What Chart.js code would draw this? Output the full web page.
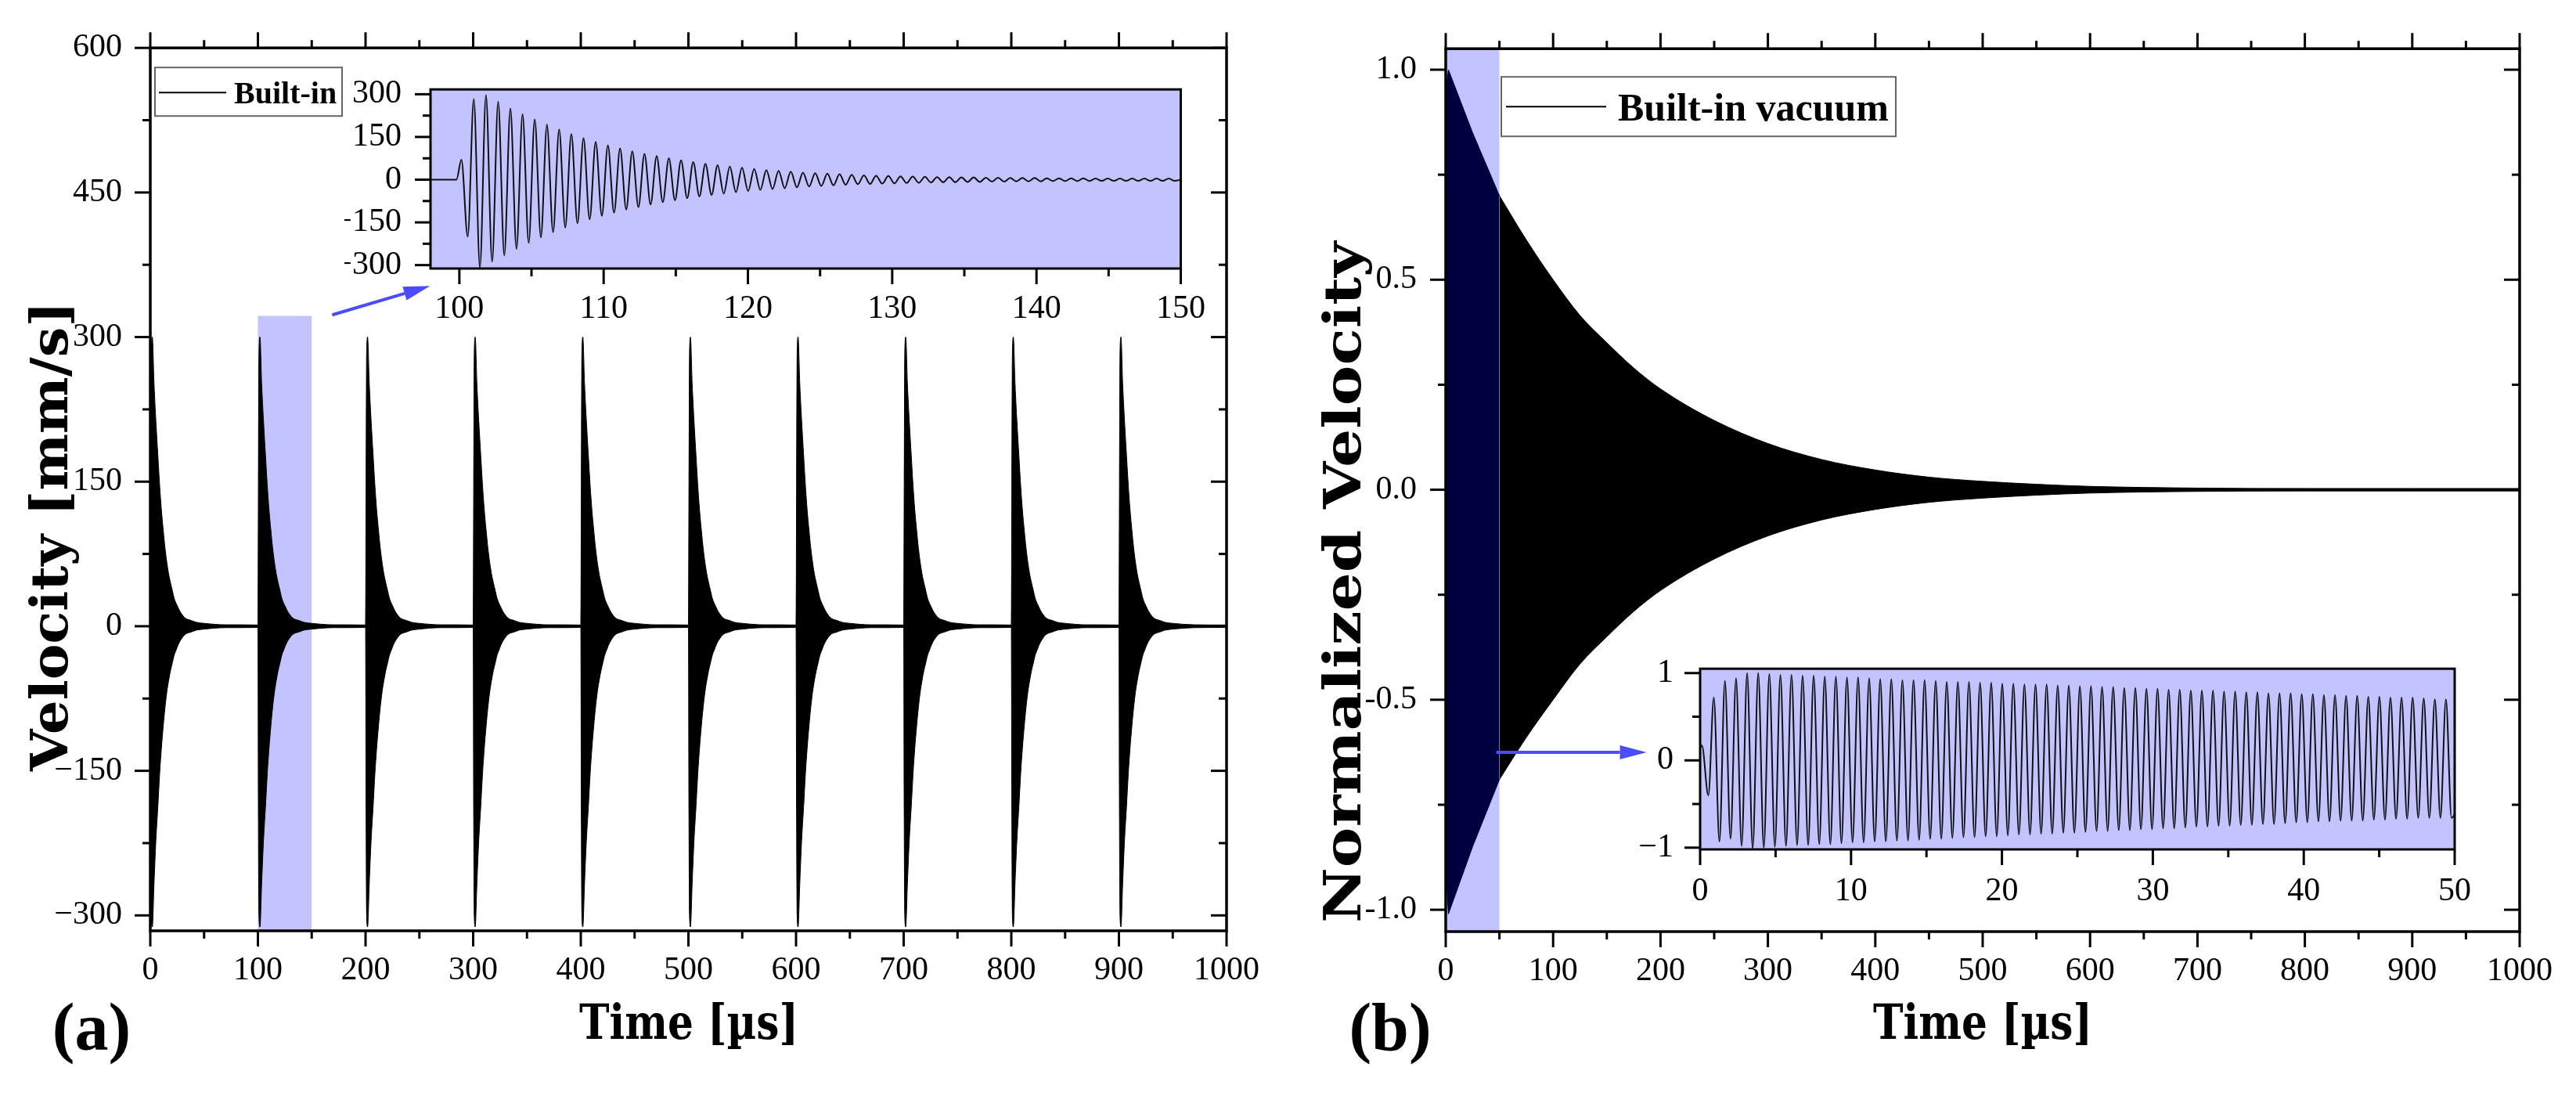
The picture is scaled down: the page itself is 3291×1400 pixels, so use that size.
<!DOCTYPE html>
<html><head><meta charset="utf-8">
<script src="https://cdn.jsdelivr.net/npm/chart.js@4.4.1/dist/chart.umd.min.js"></script>
<style>
html,body{margin:0;padding:0;background:#fff;}
#wrap{position:relative;width:3291px;height:1400px;overflow:hidden;background:#fff;}
canvas{position:absolute;}
</style></head><body><div id="wrap">
<canvas id="cA"></canvas><canvas id="cB"></canvas><canvas id="cIA"></canvas><canvas id="cIB"></canvas>
</div>
<script>
// ================= DATA =================
// Panel (a): repeated ring-down bursts (envelope)
const burstStarts = [0,100,200,300,400,500,600,700,800,900];
const burstTau   = [0,0.5,1.0,1.9,3.5,5.2,7.0,8.7,10.3,12.0,13.7,15.4,17.1,18.8,20.5,22.2,23.9,25.6,27.3,29.0,31.0,33.0,38.0,43.0,50.0,70.0,99.6];
const burstUpper = [0,150,283,300,251,213,178,146,121,100,81,66,54,45,37,29,24,20,16,13,10,8,6,4,3,1.5,1.3];
const burstLower = [0,-200,-300,-312,-266,-222,-188,-153,-127,-104,-84,-68,-56,-46,-38,-30,-25,-20,-16,-13,-10,-8,-6,-4,-3,-1.5,-1.3];
const highlightA = [100,150];       // µs
const highlightATop = 322;          // mm/s
const arrowA = [[169,323],[260,353]];

// Inset (a): oscillation extremes, 98–150 µs
const insetALeadT = [98, 99.8, 100.14];
const insetALeadV = [0, 0, 70];
const insetAPeriod = 0.845;
const insetAPeakT0 = 101.0;
const insetAPeaks = [283,297,274,250,230,212,193,176,160,146,133,121,110,100,91,83,75,68,62,56,51,46,42,38,34,31,28,25,23,21,19,17,15,14,13,12,11,10,9,9,8,8,7,7,6,6,6,5,5,5,5,4,4,4,4,4,4,4];
const insetATroughT0 = 100.58;
const insetATroughs = [-200,-309,-288,-266,-243,-222,-203,-185,-168,-153,-139,-127,-116,-105,-96,-87,-79,-72,-65,-59,-54,-49,-44,-40,-36,-33,-30,-27,-24,-22,-20,-18,-16,-15,-14,-13,-12,-11,-10,-9,-9,-8,-8,-7,-7,-6,-6,-6,-5,-5,-5,-5,-4,-4,-4,-4,-4,-4,-4];
const insetAEnd = [150, 0];

// Panel (b): normalized decay envelope
const decayT     = [0,2.5,25,50,75,100,125,150,175,200,250,300,350,400,450,500,550,600,700,800,900,1000];
const decayUpper = [0.95,1.0,0.85,0.70,0.595,0.50,0.415,0.35,0.29,0.24,0.165,0.11,0.072,0.047,0.03,0.02,0.013,0.008,0.004,0.003,0.003,0.003];
const decayLower = [-0.9,-1.01,-0.85,-0.69,-0.59,-0.50,-0.415,-0.35,-0.29,-0.24,-0.165,-0.11,-0.072,-0.047,-0.03,-0.02,-0.013,-0.008,-0.004,-0.003,-0.003,-0.003];
const highlightB = [0,50];
const arrowB = [[47,-0.625],[187,-0.625]];

// Inset (b): oscillation extremes, 0–50 µs
const insetBLeadT = [0, 0.12];
const insetBLeadV = [0.14, 0.17];
const insetBPeriod = 0.735;
const insetBPeakT0 = 0.91;
const insetBPeaks = [0.72,0.91,0.94,1.00,1.00,0.99,0.98,0.98,0.97,0.97,0.96,0.96,0.95,0.95,0.94,0.93,0.93,0.92,0.92,0.92,0.91,0.90,0.90,0.90,0.89,0.89,0.88,0.88,0.87,0.87,0.87,0.86,0.86,0.85,0.85,0.84,0.84,0.83,0.83,0.82,0.82,0.81,0.81,0.80,0.80,0.80,0.79,0.79,0.78,0.78,0.77,0.77,0.77,0.76,0.76,0.75,0.75,0.74,0.74,0.73,0.73,0.72,0.72,0.72,0.71,0.70,0.70];
const insetBTroughT0 = 0.545;
const insetBTroughs = [-0.40,-0.93,-0.90,-0.98,-1.01,-1.00,-0.99,-0.98,-0.97,-0.97,-0.96,-0.96,-0.95,-0.94,-0.94,-0.93,-0.93,-0.92,-0.92,-0.91,-0.90,-0.90,-0.89,-0.88,-0.88,-0.87,-0.87,-0.86,-0.85,-0.85,-0.84,-0.84,-0.83,-0.83,-0.82,-0.81,-0.81,-0.80,-0.80,-0.79,-0.79,-0.78,-0.78,-0.77,-0.76,-0.76,-0.75,-0.75,-0.74,-0.74,-0.73,-0.73,-0.72,-0.71,-0.71,-0.70,-0.70,-0.69,-0.69,-0.69,-0.68,-0.68,-0.67,-0.67,-0.66,-0.66,-0.66,-0.66];
const insetBEnd = [50, -0.62];

// Ticks and labels
const timeTicks = [0,100,200,300,400,500,600,700,800,900,1000];
const timeLabels = ['0','100','200','300','400','500','600','700','800','900','1000'];
const timeMinor = [50,150,250,350,450,550,650,750,850,950];
const velTicksA = [-300,-150,0,150,300,450,600];
const velLabelsA = ['\u2212300','\u2212150','0','150','300','450','600'];
const velMinorA = [-225,-75,75,225,375,525];
const insetATimeTicks = [100,110,120,130,140,150];
const insetATimeLabels = ['100','110','120','130','140','150'];
const insetATimeMinor = [105,115,125,135,145];
const insetAVelTicks = [-300,-150,0,150,300];
const insetAVelLabels = ['\u2212300','\u2212150','0','150','300'];
const insetAVelMinor = [-225,-75,75,225];
const normTicks = [-1,-0.5,0,0.5,1];
const normLabels = ['-1.0','-0.5','0.0','0.5','1.0'];
const normMinor = [-0.75,-0.25,0.25,0.75];
const insetBTimeTicks = [0,10,20,30,40,50];
const insetBTimeLabels = ['0','10','20','30','40','50'];
const insetBTimeMinor = [5,15,25,35,45];
const insetBVelTicks = [-1,0,1];
const insetBVelLabels = ['\u22121','0','1'];
const insetBVelMinor = [-0.5,0.5];

// ================= BUILD SERIES =================
function burstSeries(vals){
  const pts=[];
  burstStarts.forEach(s=>burstTau.forEach((t,i)=>pts.push({x:s+t,y:vals[i]})));
  return pts;
}
function oscSeries(leadT,leadV,pT0,peaks,tT0,troughs,period,end){
  const pts=leadT.map((t,i)=>({x:t,y:leadV[i]}));
  peaks.forEach((v,k)=>pts.push({x:pT0+k*period,y:v}));
  troughs.forEach((v,k)=>pts.push({x:tT0+k*period,y:v}));
  pts.push({x:end[0],y:end[1]});
  pts.sort((a,b)=>a.x-b.x);
  return pts;
}
function decaySeries(vals,lo,hi){
  const pts=[];
  decayT.forEach((t,i)=>{ if(t>=lo && t<=hi) pts.push({x:t,y:vals[i]}); });
  return pts;
}

// ================= HELPERS =================
Chart.defaults.font.family = "'Liberation Serif', serif";
Chart.defaults.color = '#000';
const LAV='#c3c3ff', NAVY='#000040', ARROW='#4b4bff';
const tickFont = {family:"'Liberation Serif', serif", size:42};

function place(id, left, top, w, h){
  const c=document.getElementById(id);
  c.width=w; c.height=h; c.style.left=left+'px'; c.style.top=top+'px';
  c.style.width=w+'px'; c.style.height=h+'px';
  return c;
}
function axisCfg(min,max,ticks,labels,size,pad,isX){
  return {
    type:'linear', min:min, max:max,
    afterFit(s){ if(isX) s.height=size; else s.width=size; },
    afterBuildTicks(s){ s.ticks = ticks.map(v=>({value:v})); },
    ticks:{autoSkip:false,maxRotation:0,minRotation:0,padding:pad,font:tickFont,color:'#000',
      callback:(v,i)=>labels[i]},
    grid:{display:false,drawTicks:false},
    border:{display:false}
  };
}
function frameTicks(chart, spec){
  const ctx=chart.ctx, a=chart.chartArea, xs=chart.scales.x, ys=chart.scales.y;
  ctx.save();
  ctx.strokeStyle='#000'; ctx.lineWidth=3;
  const seg=(x1,y1,x2,y2)=>{ctx.beginPath();ctx.moveTo(x1,y1);ctx.lineTo(x2,y2);ctx.stroke();};
  [[spec.xMajor,20],[spec.xMinor,10]].forEach(([vals,len])=>vals.forEach(v=>{
    const p=xs.getPixelForValue(v);
    seg(p,a.bottom,p,a.bottom+len);
    if(spec.top) seg(p,a.top,p,a.top-len);
  }));
  [[spec.yMajor,20],[spec.yMinor,10]].forEach(([vals,len])=>vals.forEach(v=>{
    const p=ys.getPixelForValue(v);
    seg(a.left,p,a.left-len,p);
    if(spec.right) seg(a.right,p,a.right-len,p);
  }));
  ctx.lineWidth=spec.frame;
  ctx.strokeRect(a.left,a.top,a.right-a.left,a.bottom-a.top);
  ctx.restore();
}
function drawArrow(chart, p1, p2){
  const ctx=chart.ctx, xs=chart.scales.x, ys=chart.scales.y;
  const x1=xs.getPixelForValue(p1[0]), y1=ys.getPixelForValue(p1[1]);
  const x2=xs.getPixelForValue(p2[0]), y2=ys.getPixelForValue(p2[1]);
  const ang=Math.atan2(y2-y1,x2-x1), hl=34, hw=9;
  const bx=x2-hl*Math.cos(ang), by=y2-hl*Math.sin(ang);
  ctx.save();
  ctx.strokeStyle=ARROW; ctx.fillStyle=ARROW; ctx.lineWidth=4;
  ctx.beginPath(); ctx.moveTo(x1,y1); ctx.lineTo(bx,by); ctx.stroke();
  ctx.beginPath(); ctx.moveTo(x2,y2);
  ctx.lineTo(bx+hw*Math.sin(ang), by-hw*Math.cos(ang));
  ctx.lineTo(bx-hw*Math.sin(ang), by+hw*Math.cos(ang));
  ctx.closePath(); ctx.fill();
  ctx.restore();
}
function stretchText(ctx, text, x, y, angle, font, width, align){
  ctx.save();
  ctx.translate(x,y); ctx.rotate(angle);
  ctx.font=font; ctx.fillStyle='#000';
  ctx.textAlign=align||'center'; ctx.textBaseline='alphabetic';
  if(width){ const w=ctx.measureText(text).width; ctx.scale(width/w,1); }
  ctx.fillText(text,0,0);
  ctx.restore();
}
function legendBox(chart, o){
  const ctx=chart.ctx, a=chart.chartArea;
  ctx.save();
  ctx.fillStyle='#fff'; ctx.fillRect(a.left+o.bx,a.top+o.by,o.bw,o.bh);
  ctx.strokeStyle='#666'; ctx.lineWidth=2; ctx.strokeRect(a.left+o.bx,a.top+o.by,o.bw,o.bh);
  ctx.strokeStyle='#000'; ctx.lineWidth=2;
  ctx.beginPath(); ctx.moveTo(a.left+o.l1,a.top+o.ly); ctx.lineTo(a.left+o.l2,a.top+o.ly); ctx.stroke();
  ctx.fillStyle='#000'; ctx.font='bold '+o.size+"px 'Liberation Serif'";
  ctx.textAlign='left'; ctx.textBaseline='alphabetic';
  ctx.fillText(chart.data.datasets[0].label, a.left+o.tx, a.top+o.ty);
  ctx.restore();
}
function baseOptions(mt,mr,scales){
  return {responsive:false,animation:false,devicePixelRatio:1,
    layout:{padding:{left:0,top:mt,right:mr,bottom:0}},
    plugins:{legend:{display:false},tooltip:{enabled:false}},
    elements:{point:{radius:0}},
    scales:scales};
}
const TITLE_FONT = "bold 66px 'DejaVu Serif'";
const XTITLE_FONT = "bold 62px 'DejaVu Serif'";
const PANEL_FONT = "bold 86px 'Liberation Serif'";

// ================= CHART (a) =================
const offA=[0,0];
place('cA',offA[0],offA[1],1640,1400);
new Chart(document.getElementById('cA'),{
  type:'line',
  data:{datasets:[
    {label:'Built-in',data:burstSeries(burstUpper),borderColor:'#000',borderWidth:1,backgroundColor:'#000',fill:'+1',cubicInterpolationMode:'monotone'},
    {label:'Built-in lower',data:burstSeries(burstLower),borderColor:'#000',borderWidth:1,fill:false,cubicInterpolationMode:'monotone'}
  ]},
  options:baseOptions(60,73,{
    x:axisCfg(0,1000,timeTicks,timeLabels,211,26,true),
    y:axisCfg(-316,600,velTicksA,velLabelsA,192,36,false)
  }),
  plugins:[{id:'decoA',
    beforeDatasetsDraw(c){
      const ctx=c.ctx,a=c.chartArea,xs=c.scales.x,ys=c.scales.y;
      const x1=xs.getPixelForValue(highlightA[0]), x2=xs.getPixelForValue(highlightA[1]);
      const yt=ys.getPixelForValue(highlightATop);
      ctx.save(); ctx.fillStyle=LAV; ctx.fillRect(x1,yt,x2-x1,a.bottom-yt); ctx.restore();
    },
    afterDraw(c){
      frameTicks(c,{xMajor:timeTicks,xMinor:timeMinor,yMajor:velTicksA,yMinor:velMinorA,top:true,right:true,frame:3.5});
      drawArrow(c,arrowA[0],arrowA[1]);
      legendBox(c,{bx:6,by:25,bw:239,bh:62,l1:11,l2:97,ly:57,tx:107,ty:71,size:40});
      const ctx=c.ctx;
      stretchText(ctx,'Time [\u00b5s]',880-offA[0],1327-offA[1],0,XTITLE_FONT,280);
      stretchText(ctx,'Velocity [mm/s]',86-offA[0],685-offA[1],-Math.PI/2,TITLE_FONT,600);
      stretchText(ctx,'(a)',117-offA[0],1341-offA[1],0,PANEL_FONT,0);
    }
  }]
});

// ================= CHART (b) =================
const offB=[1660,0];
place('cB',offB[0],offB[1],1631,1400);
new Chart(document.getElementById('cB'),{
  type:'line',
  data:{datasets:[
    {label:'Built-in vacuum',data:decaySeries(decayUpper,highlightB[0],highlightB[1]),borderColor:NAVY,borderWidth:1,backgroundColor:NAVY,fill:'+1',tension:0},
    {label:'lower (highlight)',data:decaySeries(decayLower,highlightB[0],highlightB[1]),borderColor:NAVY,borderWidth:1,fill:false,tension:0},
    {label:'Built-in vacuum upper',data:decaySeries(decayUpper,highlightB[1],1000),borderColor:'#000',borderWidth:1,backgroundColor:'#000',fill:'+1',cubicInterpolationMode:'monotone'},
    {label:'lower',data:decaySeries(decayLower,highlightB[1],1000),borderColor:'#000',borderWidth:1,fill:false,cubicInterpolationMode:'monotone'}
  ]},
  options:baseOptions(60,72,{
    x:axisCfg(0,1000,timeTicks,timeLabels,210,26,true),
    y:axisCfg(-1.052,1.05,normTicks,normLabels,187,37,false)
  }),
  plugins:[{id:'decoB',
    beforeDatasetsDraw(c){
      const ctx=c.ctx,a=c.chartArea,xs=c.scales.x;
      const x1=xs.getPixelForValue(highlightB[0]), x2=xs.getPixelForValue(highlightB[1]);
      ctx.save(); ctx.fillStyle=LAV; ctx.fillRect(x1,a.top,x2-x1,a.bottom-a.top); ctx.restore();
    },
    afterDraw(c){
      frameTicks(c,{xMajor:timeTicks,xMinor:timeMinor,yMajor:normTicks,yMinor:normMinor,top:true,right:true,frame:3.5});
      drawArrow(c,arrowB[0],arrowB[1]);
      legendBox(c,{bx:71,by:36,bw:504,bh:76,l1:77,l2:205,ly:74,tx:220,ty:92,size:50});
      const ctx=c.ctx;
      stretchText(ctx,'Time [\u00b5s]',2533-offB[0],1327-offB[1],0,XTITLE_FONT,280);
      stretchText(ctx,'Normalized Velocity',1738-offB[0],744-offB[1],-Math.PI/2,TITLE_FONT,870);
      stretchText(ctx,'(b)',1776-offB[0],1341-offB[1],0,PANEL_FONT,0);
    }
  }]
});

// ================= INSET (a) =================
function insetPlugin(spec){
  return {id:'inset'+spec.n,
    beforeDatasetsDraw(c){ const a=c.chartArea; c.ctx.save(); c.ctx.fillStyle=LAV; c.ctx.fillRect(a.left,a.top,a.right-a.left,a.bottom-a.top); c.ctx.restore(); },
    afterDraw(c){ frameTicks(c,spec); }
  };
}
place('cIA',440,52,1127,371);
new Chart(document.getElementById('cIA'),{
  type:'line',
  data:{datasets:[{label:'Built-in (zoom)',data:oscSeries(insetALeadT,insetALeadV,insetAPeakT0,insetAPeaks,insetATroughT0,insetATroughs,insetAPeriod,insetAEnd),
    borderColor:'#111',borderWidth:2,fill:false,cubicInterpolationMode:'monotone'}]},
  options:baseOptions(40,45,{
    x:axisCfg(98,150,insetATimeTicks,insetATimeLabels,80,27,true),
    y:axisCfg(-312,317,insetAVelTicks,insetAVelLabels,110,37,false)
  }),
  plugins:[insetPlugin({n:'A',xMajor:insetATimeTicks,xMinor:insetATimeMinor,yMajor:insetAVelTicks,yMinor:insetAVelMinor,top:false,right:false,frame:3})]
});

// ================= INSET (b) =================
place('cIB',2062,795,1124,370);
new Chart(document.getElementById('cIB'),{
  type:'line',
  data:{datasets:[{label:'Built-in vacuum (zoom)',data:oscSeries(insetBLeadT,insetBLeadV,insetBPeakT0,insetBPeaks,insetBTroughT0,insetBTroughs,insetBPeriod,insetBEnd),
    borderColor:'#111',borderWidth:2,fill:false,cubicInterpolationMode:'monotone'}]},
  options:baseOptions(40,45,{
    x:axisCfg(0,50,insetBTimeTicks,insetBTimeLabels,80,29,true),
    y:axisCfg(-1.02,1.05,insetBVelTicks,insetBVelLabels,110,34,false)
  }),
  plugins:[insetPlugin({n:'B',xMajor:insetBTimeTicks,xMinor:insetBTimeMinor,yMajor:insetBVelTicks,yMinor:insetBVelMinor,top:false,right:false,frame:3})]
});
</script></body></html>
